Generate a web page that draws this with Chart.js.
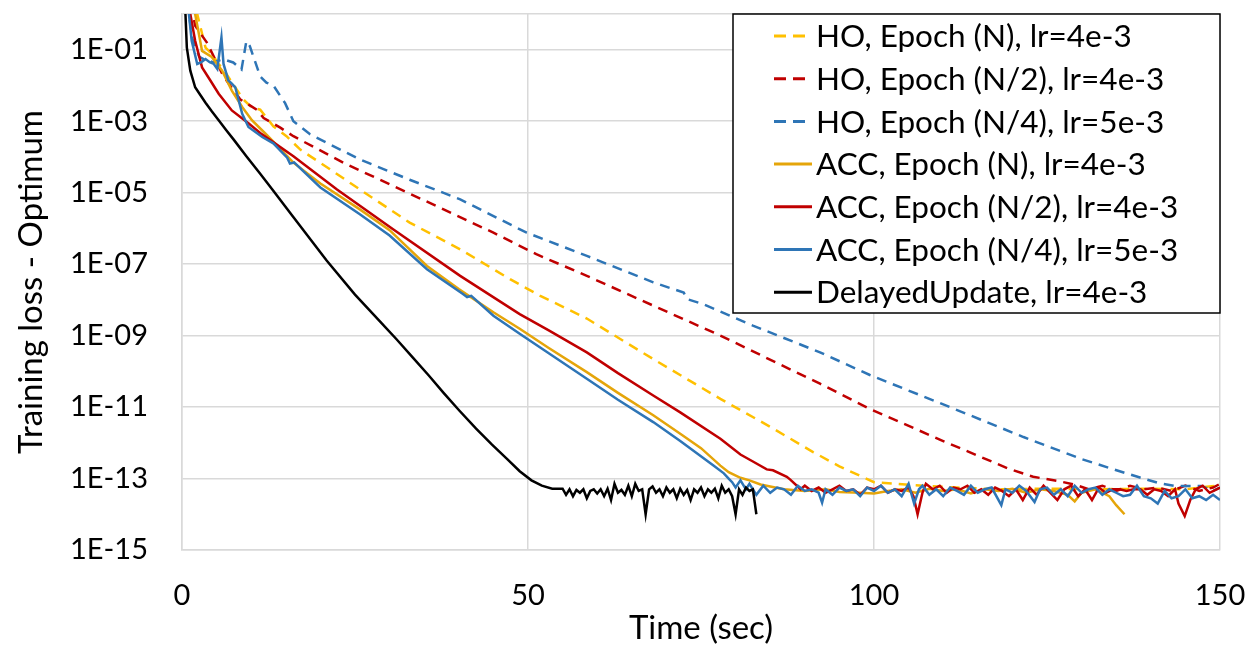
<!DOCTYPE html>
<html>
<head>
<meta charset="utf-8">
<title>Training loss vs time</title>
<script src="https://cdn.jsdelivr.net/npm/chart.js@4.4.0/dist/chart.umd.min.js"></script>
<style>
    html, body { margin: 0; padding: 0; background: #fff; }
    #wrap { width: 1248px; height: 647px; }
</style>
</head>
<body>
<div id="wrap"><canvas id="lossChart" width="1248" height="647"></canvas></div>
<script>
// Series labels (legend order)
const seriesLabels = [
    'HO, Epoch (N), lr=4e-3',
    'HO, Epoch (N/2), lr=4e-3',
    'HO, Epoch (N/4), lr=5e-3',
    'ACC, Epoch (N), lr=4e-3',
    'ACC, Epoch (N/2), lr=4e-3',
    'ACC, Epoch (N/4), lr=5e-3',
    'DelayedUpdate, lr=4e-3'
];

// Axis ticks
const xTicks = [0, 50, 100, 150];
const yTicks = [1, 1e-1, 1e-3, 1e-5, 1e-7, 1e-9, 1e-11, 1e-13, 1e-15];

// HO, Epoch (N)
const hoNTime = [1.0, 1.6, 2.2, 3.4, 4.3, 5.3, 6.0, 7.5, 8.9, 10,
    11.3, 13.2, 15.1, 17.1, 21.4, 25.7, 32.9, 40.2, 47.4, 51.7,
    58.5, 68.1, 77.8, 85, 91.2, 95, 98.6, 100, 103, 107.2,
    112, 118, 125, 132, 140, 145, 150];
const hoNLoss = [3, 1.35, 1, 0.115, 0.076, 0.04, 0.028, 0.01, 0.004, 0.0025,
    0.0021, 7.2e-4, 3.8e-4, 1.6e-4, 4.5e-5, 1.23e-5, 1.45e-6, 2.6e-7, 3.8e-8, 1.32e-8,
    3e-9, 2.2e-10, 1.7e-11, 2.8e-12, 5.5e-13, 2.2e-13, 1.05e-13, 7.9e-14, 7.1e-14, 6.3e-14,
    5.6e-14, 5e-14, 5.2e-14, 5e-14, 5.2e-14, 5e-14, 6.5e-14];

// HO, Epoch (N/2)
const hoN2Time = [1.3, 1.9, 3.6, 6, 8.4, 10.8, 11.8, 14.2, 16.1, 23.3,
    30.5, 37.8, 45, 51.2, 58.5, 68.1, 77.8, 92.2, 99.4, 110,
    119.4, 123, 126.6, 129, 131, 133, 135, 137, 139, 141,
    143, 145, 147, 149, 150];
const hoN2Loss = [2, 0.47, 0.158, 0.018, 0.0041, 0.0021, 0.00123, 6.6e-4, 3.8e-4, 6.9e-5,
    1.55e-5, 3.4e-6, 7.6e-7, 1.9e-7, 4.7e-8, 6.9e-9, 1e-9, 4.5e-11, 8.9e-12, 1.12e-12,
    1.9e-13, 1.12e-13, 8.5e-14, 6.8e-14, 5e-14, 6.3e-14, 4.5e-14, 6.3e-14, 5e-14, 5.6e-14,
    4.5e-14, 6.3e-14, 4.5e-14, 5.6e-14, 7.1e-14];

// HO, Epoch (N/4)
const hoN4Time = [0.6, 1.0, 1.5, 2.5, 3.5, 4.5, 6, 7.4, 8.6, 9.3,
    9.8, 11.3, 12.2, 13.2, 14.9, 16.1, 18.5, 25.7, 32.9, 40.2,
    49.8, 58.5, 68.1, 72.5, 73, 75.3, 82.5, 92.2, 99.4, 111.6,
    121.6, 130, 135.5, 138.2, 141, 143.5, 147.3, 149, 150];
const hoN4Loss = [2, 1, 0.2, 0.063, 0.05, 0.045, 0.054, 0.044, 0.028, 0.174,
    0.126, 0.018, 0.012, 0.01, 0.0032, 0.001, 4.3e-4, 8.5e-5, 2.3e-5, 6.5e-6,
    7.6e-7, 1.7e-7, 3.1e-8, 1.6e-8, 1.05e-8, 7.6e-9, 1.9e-9, 3.4e-10, 7.9e-11, 8.9e-12,
    1.45e-12, 3.5e-13, 1.6e-13, 1.1e-13, 7.6e-14, 6.2e-14, 6.2e-14, 4.5e-14, 5.6e-14];

// ACC, Epoch (N)
const accNTime = [1.5, 1.9, 2.9, 4.3, 5.8, 7.2, 8.7, 10.1, 12, 13.2,
    16.1, 20, 25.7, 30, 35.4, 40, 45, 48.8, 53, 58.5,
    63, 68.1, 72, 75, 77.8, 79, 80.7, 82, 83.6, 85,
    87, 90, 93, 95, 98, 100, 102, 104, 106, 108,
    110, 112, 114, 116, 118, 120, 122, 124, 126, 128,
    129, 130, 132, 133, 134, 135, 136.2];
const accNLoss = [2, 1, 0.093, 0.063, 0.026, 0.0072, 0.0025, 0.00107, 4.6e-4, 2.7e-4,
    6.9e-5, 1.8e-5, 3.4e-6, 8.9e-7, 8.9e-8, 2e-8, 4.5e-9, 1.55e-9, 4.5e-10, 9.5e-11,
    2.5e-11, 5.9e-12, 1.8e-12, 7.1e-13, 2.3e-13, 1.5e-13, 1.05e-13, 8.9e-14, 6.8e-14, 6e-14,
    5e-14, 4.5e-14, 5e-14, 4.2e-14, 4e-14, 3.8e-14, 4.5e-14, 5e-14, 4e-14, 5.2e-14,
    4.5e-14, 5e-14, 3.8e-14, 5e-14, 4.5e-14, 5.2e-14, 4e-14, 5e-14, 4.5e-14, 3.5e-14,
    2.3e-14, 4e-14, 5e-14, 4e-14, 3.2e-14, 1.8e-14, 1e-14];

// ACC, Epoch (N/2)
const accN2Time = [1.0, 1.2, 1.9, 2.9, 4.1, 5.3, 7.2, 9.6, 11.3, 12.5,
    16.1, 22.4, 30.5, 40.2, 48.8, 53, 58.5, 63, 68.1, 72,
    77.8, 80.7, 82.5, 84.5, 85.4, 87.4, 87.9, 89.4, 90, 91,
    92, 93, 94, 95, 96, 97, 98, 99, 100, 101,
    102, 103, 104, 105, 105.7, 106.3, 107, 107.5, 108.5, 109.5,
    110.5, 111.5, 112.5, 113.5, 114.5, 115.5, 116.5, 117.5, 118.5, 119.5,
    120.5, 121.5, 122.5, 123.5, 124.5, 125.5, 126.5, 127.5, 128.5, 129.5,
    130.5, 131.5, 132.5, 133.5, 134.5, 135.5, 136.5, 137.5, 138.5, 139.5,
    140.5, 141.5, 142.5, 143.5, 144, 144.9, 145.7, 146.5, 147.5, 148.5,
    149.5, 150];
const accN2Loss = [2, 1, 0.178, 0.032, 0.0138, 0.0059, 0.002, 8.7e-4, 4.7e-4, 3.2e-4,
    1.05e-4, 1.23e-5, 9.5e-7, 4.7e-8, 4e-9, 1.4e-9, 3.4e-10, 8.9e-11, 2.1e-11, 7.1e-12,
    1.3e-12, 4.7e-13, 3e-13, 1.8e-13, 1.7e-13, 1.12e-13, 9.3e-14, 5e-14, 6.3e-14, 4.5e-14,
    5.6e-14, 4e-14, 5e-14, 6.3e-14, 4.5e-14, 5e-14, 3.5e-14, 5.6e-14, 5e-14, 6.3e-14,
    4e-14, 5e-14, 4.5e-14, 5.6e-14, 3.2e-14, 1e-14, 4e-14, 7.1e-14, 5e-14, 6.3e-14,
    4e-14, 5.6e-14, 5e-14, 6.3e-14, 4e-14, 5e-14, 3.5e-14, 5.6e-14, 4.5e-14, 3.2e-14,
    5e-14, 2.5e-14, 5.6e-14, 3.5e-14, 6.3e-14, 4e-14, 2.5e-14, 5e-14, 6.3e-14, 3.2e-14,
    5e-14, 2.5e-14, 5.6e-14, 4e-14, 5e-14, 5e-14, 4.5e-14, 5e-14, 5e-14, 3.5e-14,
    5e-14, 4.5e-14, 3.2e-14, 5e-14, 2e-14, 8.9e-15, 2.5e-14, 5e-14, 6.3e-14, 4e-14,
    5e-14, 5.6e-14];

// ACC, Epoch (N/4)
const accN4Time = [0.5, 1.0, 1.4, 2.2, 2.8, 3.4, 4.0, 4.6, 5.1, 5.7,
    6.0, 6.7, 7.2, 7.7, 8.2, 8.7, 9.6, 11.6, 13.2, 15.2,
    15.6, 16.2, 20, 25.7, 30, 35.4, 40.5, 41.2, 41.8, 45,
    48.8, 53, 58.5, 63, 68.1, 72, 76.8, 78.3, 79, 79.5,
    80, 80.7, 81.5, 82, 83, 84, 85, 86, 87, 88,
    89, 90, 91, 92, 92.5, 93, 94, 95, 96, 97,
    98, 99, 100, 101, 102, 103, 104, 105, 105.8, 106.5,
    107, 108, 109, 110, 111, 112, 113, 114, 115, 116,
    117, 118.4, 119, 120, 121, 122, 123.2, 124, 125, 126,
    127, 128, 129, 130, 131, 132, 133, 134, 135, 136,
    137, 138, 139, 140, 141, 142, 143, 144, 145, 146,
    147, 148, 149, 150];
const accN4Loss = [2, 1, 0.178, 0.04, 0.045, 0.055, 0.045, 0.04, 0.029, 0.22,
    0.04, 0.0138, 0.0112, 0.0089, 0.0038, 0.00162, 6.9e-4, 3.6e-4, 2.4e-4, 9.5e-5,
    6.5e-5, 7e-5, 1.4e-5, 2.5e-6, 6.3e-7, 7.2e-8, 1.5e-8, 1.2e-8, 1.3e-8, 3.6e-9,
    1.12e-9, 3.2e-10, 6.2e-11, 1.6e-11, 3.8e-12, 1.12e-12, 2.3e-13, 1.4e-13, 1e-13, 7.9e-14,
    5.6e-14, 8.9e-14, 5e-14, 7.1e-14, 3.5e-14, 6.3e-14, 4e-14, 5.6e-14, 5e-14, 3.5e-14,
    6.3e-14, 4.5e-14, 5e-14, 4e-14, 2.1e-14, 5e-14, 3.5e-14, 5.6e-14, 4.5e-14, 5e-14,
    3.2e-14, 5.6e-14, 4.5e-14, 6.3e-14, 4e-14, 5e-14, 3.2e-14, 7.1e-14, 2e-14, 5e-14,
    6.3e-14, 3.5e-14, 5e-14, 3.2e-14, 5.6e-14, 4.5e-14, 3.5e-14, 6.3e-14, 4e-14, 5e-14,
    5.6e-14, 1.8e-14, 5e-14, 4e-14, 6.3e-14, 4.5e-14, 2.2e-14, 5e-14, 5.6e-14, 3.5e-14,
    5e-14, 3.2e-14, 6.3e-14, 4e-14, 5e-14, 5.6e-14, 3.5e-14, 5e-14, 4e-14, 3.2e-14,
    3.5e-14, 6.3e-14, 3.2e-14, 2.8e-14, 2e-14, 4.5e-14, 2.8e-14, 3.2e-14, 5e-14, 2.8e-14,
    3.2e-14, 2.5e-14, 3.5e-14, 2.5e-14];

// DelayedUpdate
const delayedTime = [0.3, 0.5, 0.7, 1.2, 1.9, 2.6, 3.4, 4.3, 5.3, 6.4,
    7.5, 9.3, 11.3, 13, 16, 20.9, 25, 28.6, 31, 33.3,
    35.6, 37.8, 40.1, 42.5, 44.8, 47, 48.8, 50.5, 52, 53.5,
    55, 55.5, 56, 56.5, 57, 57.5, 58, 58.5, 59, 59.5,
    60, 60.5, 61, 61.5, 62, 62.5, 63, 63.5, 64, 64.5,
    65, 65.5, 66, 66.5, 67, 67.5, 68, 68.5, 69, 69.5,
    70, 70.5, 71, 71.5, 72, 72.5, 73, 73.5, 74, 74.5,
    75, 75.5, 76, 76.5, 77, 77.5, 78, 78.5, 79, 79.5,
    80, 80.5, 81, 81.5, 82, 82.5, 83];
const delayedLoss = [2, 1, 0.115, 0.026, 0.0089, 0.0056, 0.0033, 0.0019, 0.00107, 5.6e-4,
    3e-4, 1.05e-4, 3.4e-5, 1.26e-5, 2.2e-6, 1.26e-7, 1.4e-8, 2.5e-9, 7.9e-10, 2.5e-10,
    7.9e-11, 2.5e-11, 7.9e-12, 2.5e-12, 8.9e-13, 3.5e-13, 1.6e-13, 8.9e-14, 6.3e-14, 5.2e-14,
    5.2e-14, 3.5e-14, 5e-14, 3.2e-14, 4.8e-14, 4e-14, 5e-14, 2.8e-14, 4.5e-14, 5e-14,
    3.8e-14, 5e-14, 3.2e-14, 5.2e-14, 2.5e-14, 7.1e-14, 4e-14, 4.8e-14, 3.5e-14, 6.3e-14,
    3.2e-14, 7.1e-14, 4.5e-14, 5e-14, 1e-14, 5e-14, 6e-14, 4e-14, 5e-14, 3.2e-14,
    5.6e-14, 4e-14, 5e-14, 2.8e-14, 5.2e-14, 3.5e-14, 4.8e-14, 2.5e-14, 5e-14, 4e-14,
    5.6e-14, 3.2e-14, 5e-14, 4e-14, 5.2e-14, 2.8e-14, 6.3e-14, 4e-14, 5e-14, 3.2e-14,
    1e-14, 5e-14, 3.5e-14, 5.6e-14, 4.5e-14, 5e-14, 1e-14];

const FONT = 'Lato, "Liberation Sans", sans-serif';

function toPoints(times, losses) {
    return times.map((t, i) => ({ x: t, y: losses[i] }));
}

function expLabel(value) {
    const exp = Math.round(Math.log10(value));
    if (exp === 0) return '';
    const sign = exp < 0 ? '-' : '+';
    return '1E' + sign + String(Math.abs(exp)).padStart(2, '0');
}

function series(index, times, losses, color, dashed) {
    return {
        label: seriesLabels[index],
        data: toPoints(times, losses),
        borderColor: color,
        borderWidth: 2.5,
        borderDash: dashed ? [10, 7] : [],
        pointRadius: 0,
        tension: 0,
        fill: false,
        order: 6 - index
    };
}

// Keep the plot area fixed: no extra room for half tick labels
function noEdgePadding(scale) {
    scale.paddingTop = 0;
    scale.paddingBottom = 0;
    scale.paddingLeft = 0;
    scale.paddingRight = 0;
}

// Legend drawn inside the plot, top right corner
const legendBox = {
    id: 'legendBox',
    afterDraw(chart) {
        const ctx = chart.ctx;
        const area = chart.chartArea;
        const boxW = 487, boxH = 299;
        const x0 = area.right - boxW, y0 = area.top;
        ctx.save();
        ctx.fillStyle = '#fff';
        ctx.fillRect(x0, y0, boxW, boxH);
        ctx.strokeStyle = '#000';
        ctx.lineWidth = 1.5;
        ctx.strokeRect(x0, y0, boxW, boxH);
        ctx.font = '31.5px ' + FONT;
        ctx.textBaseline = 'middle';
        chart.data.datasets.forEach((ds, i) => {
            const cy = y0 + 22 + i * 42.7;
            const dashed = ds.borderDash && ds.borderDash.length;
            ctx.strokeStyle = ds.borderColor;
            ctx.lineWidth = 3;
            ctx.setLineDash(dashed ? [12, 7] : []);
            ctx.beginPath();
            ctx.moveTo(x0 + 41, cy);
            ctx.lineTo(x0 + (dashed ? 72 : 79), cy);
            ctx.stroke();
            ctx.setLineDash([]);
            ctx.fillStyle = '#000';
            ctx.fillText(ds.label, x0 + 83, cy + 1);
        });
        ctx.restore();
    }
};

const ctx = document.getElementById('lossChart').getContext('2d');
const chart = new Chart(ctx, {
    type: 'line',
    data: {
        datasets: [
            series(0, hoNTime, hoNLoss, '#FFC000', true),
            series(1, hoN2Time, hoN2Loss, '#C00000', true),
            series(2, hoN4Time, hoN4Loss, '#2E75B6', true),
            series(3, accNTime, accNLoss, '#E5A50A', false),
            series(4, accN2Time, accN2Loss, '#C00000', false),
            series(5, accN4Time, accN4Loss, '#2E75B6', false),
            series(6, delayedTime, delayedLoss, '#000000', false)
        ]
    },
    options: {
        responsive: false,
        animation: false,
        layout: { padding: { top: 14, right: 28, left: 0, bottom: 0 } },
        plugins: {
            legend: { display: false },
            tooltip: { enabled: false }
        },
        scales: {
            x: {
                type: 'linear',
                min: 0,
                max: 150,
                afterBuildTicks(scale) {
                    scale.ticks = xTicks.map(v => ({ value: v }));
                },
                ticks: {
                    padding: 28,
                    color: '#000',
                    font: { family: FONT, size: 29 }
                },
                grid: { color: '#D9D9D9', lineWidth: 1.5, drawTicks: false },
                border: { color: '#D9D9D9', width: 1.5 },
                title: {
                    display: true,
                    text: 'Time (sec)',
                    color: '#000',
                    font: { family: FONT, size: 33 },
                    padding: { top: 0, bottom: -1 }
                },
                afterFit(scale) {
                    scale.height = 97;
                    noEdgePadding(scale);
                }
            },
            y: {
                type: 'logarithmic',
                min: 1e-15,
                max: 1,
                afterBuildTicks(scale) {
                    scale.ticks = yTicks.map(v => ({ value: v }));
                },
                ticks: {
                    callback: expLabel,
                    padding: 34,
                    color: '#000',
                    font: { family: FONT, size: 29 }
                },
                grid: { color: '#D9D9D9', lineWidth: 1.5, drawTicks: false },
                border: { color: '#D9D9D9', width: 1.5 },
                title: {
                    display: true,
                    text: 'Training loss - Optimum',
                    color: '#000',
                    font: { family: FONT, size: 33 },
                    padding: { top: 12, bottom: 0 }
                },
                afterFit(scale) {
                    scale.width = 182;
                    noEdgePadding(scale);
                }
            }
        }
    },
    plugins: [legendBox]
});
</script>
</body>
</html>
